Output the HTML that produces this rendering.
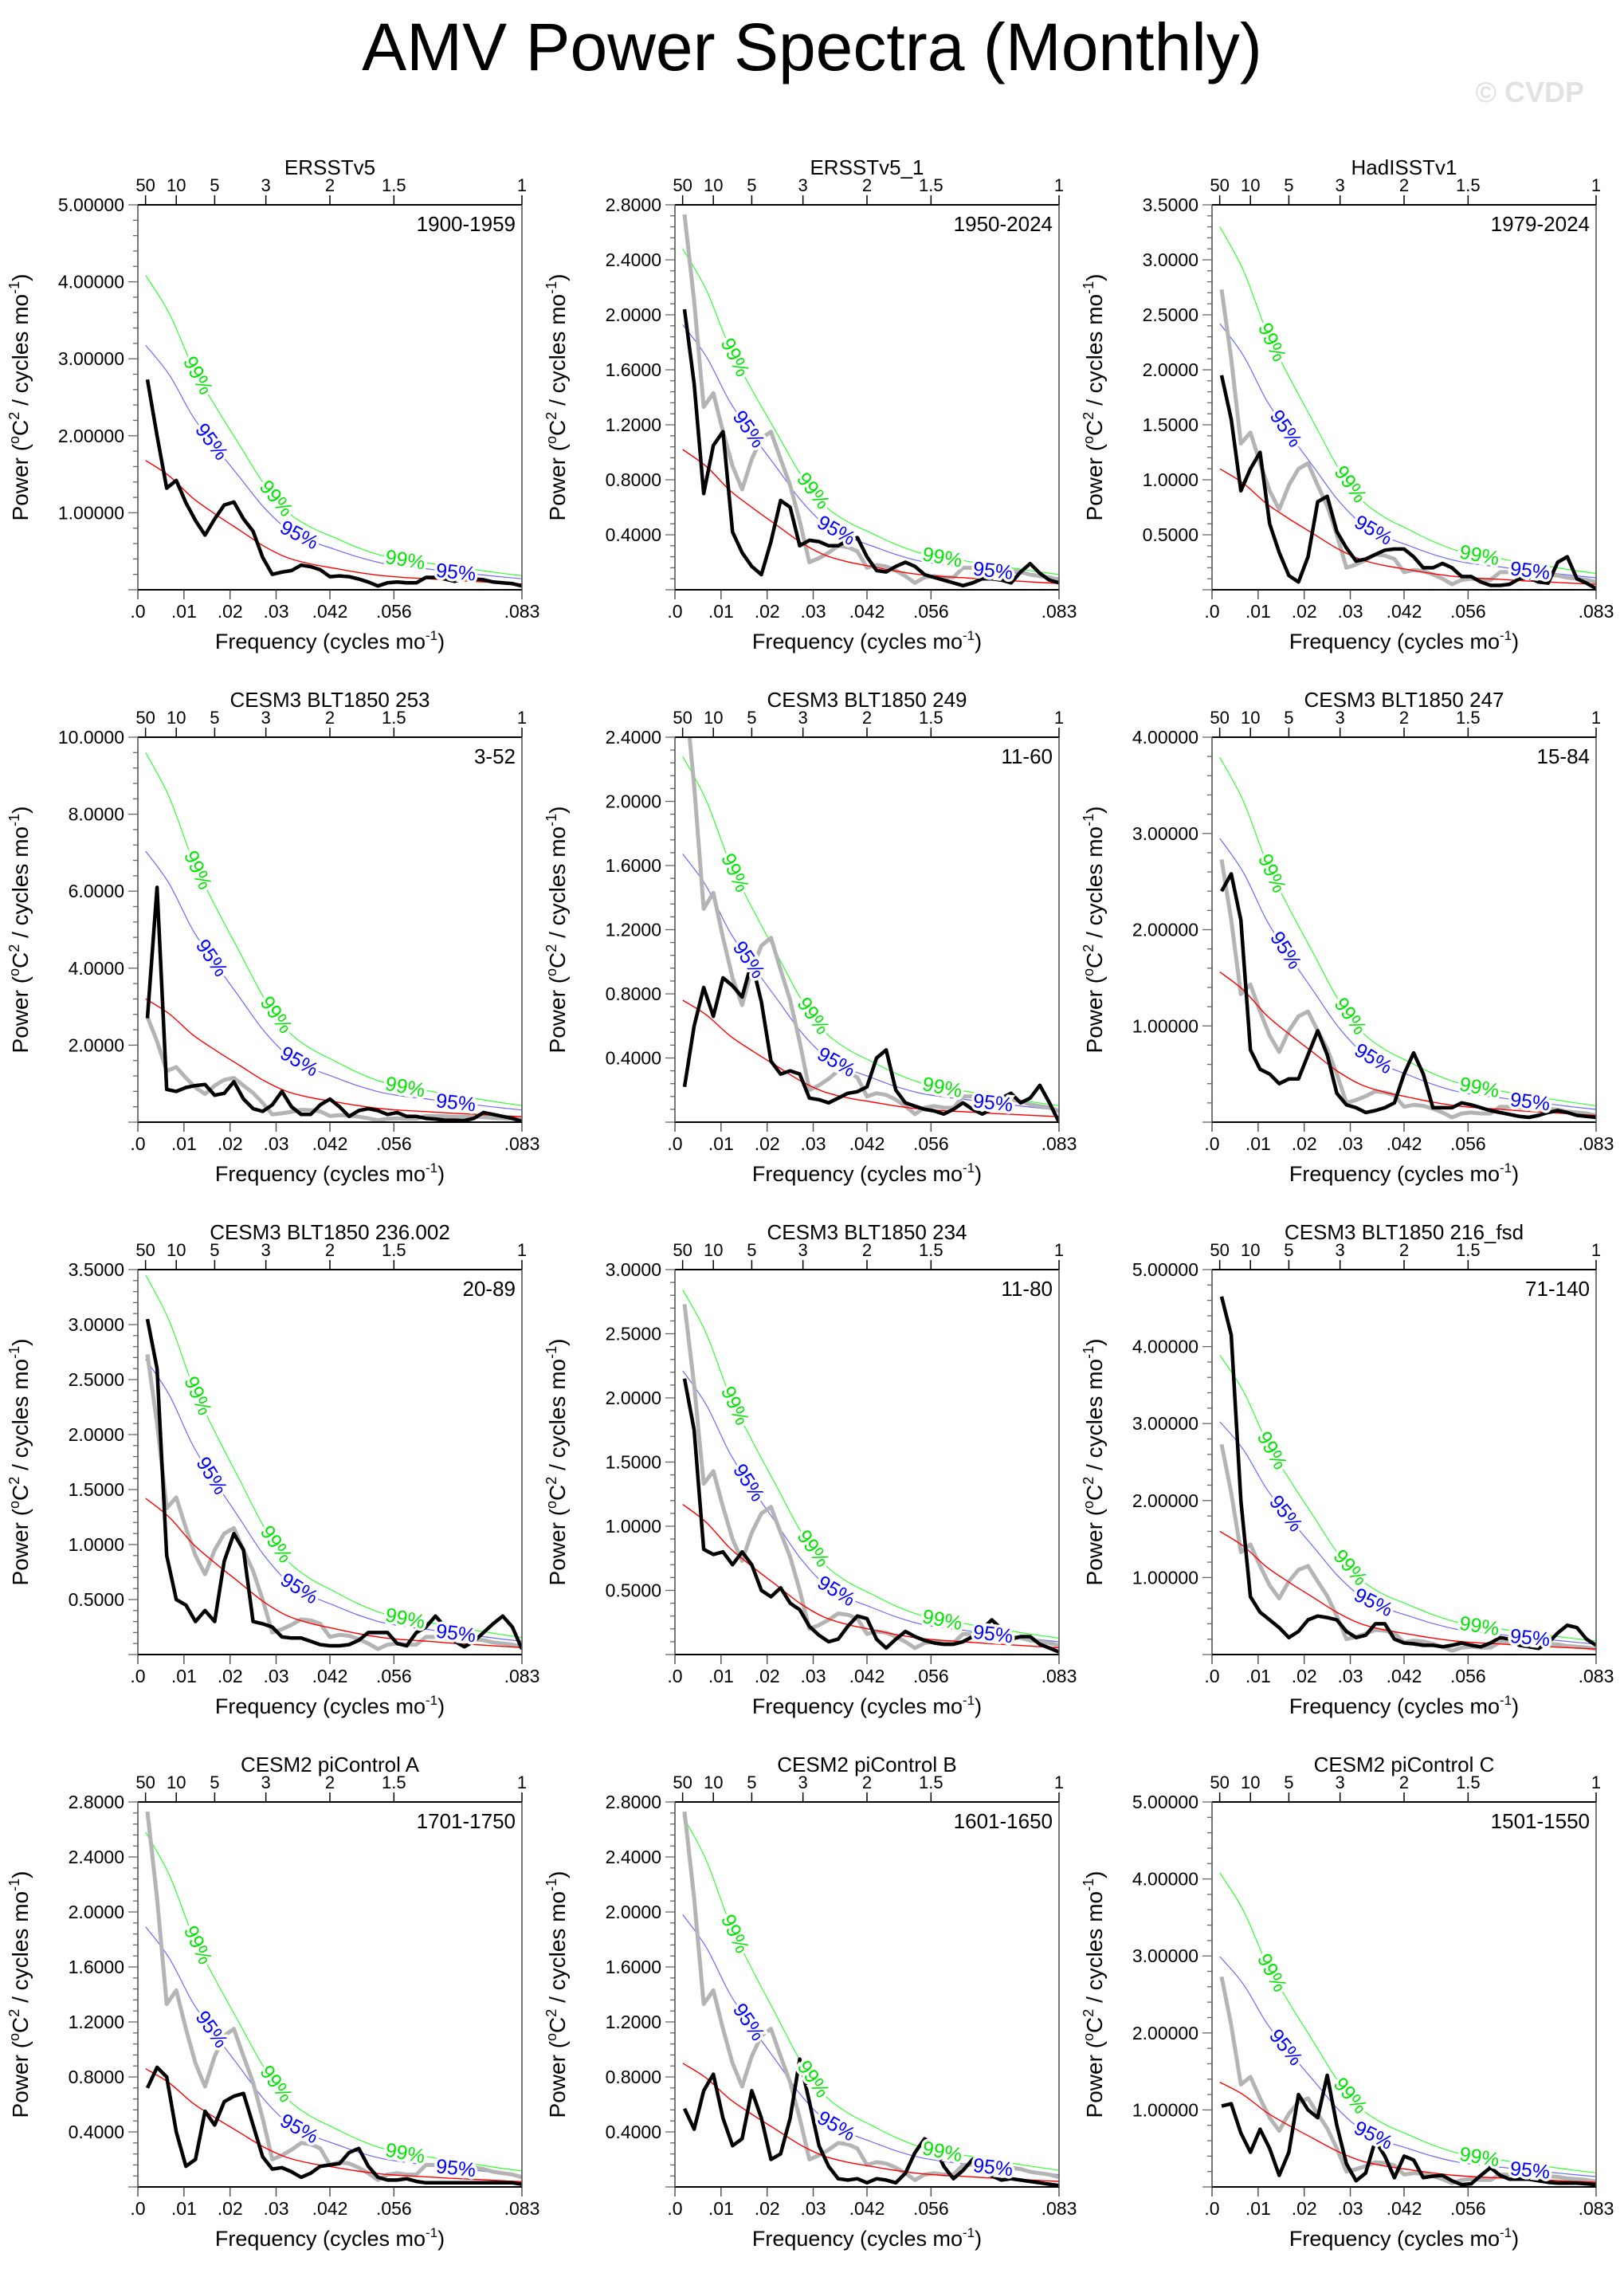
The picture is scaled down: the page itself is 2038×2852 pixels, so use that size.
<!DOCTYPE html>
<html><head><meta charset="utf-8"><title>AMV Power Spectra (Monthly)</title>
<style>
html,body{margin:0;padding:0;background:#fff;}
svg{display:block;font-family:"Liberation Sans",Arial,sans-serif;}
</style></head>
<body>
<svg id="chart" xmlns="http://www.w3.org/2000/svg" width="2038" height="2852" viewBox="0 0 2038 2852">
<rect x="0" y="0" width="2038" height="2852" fill="#fff"/>
<text x="1019" y="88" font-size="84" text-anchor="middle" fill="#000">AMV Power Spectra (Monthly)</text>
<text x="1988" y="128" font-size="36" font-weight="bold" text-anchor="end" fill="#e2e2e2">© CVDP</text>
</svg>
<script>
// ---- data ----
const freqs=[0.00208,0.00417,0.00625,0.00833,0.01042,0.0125,0.01458,0.01667,0.01875,0.02083,0.02292,0.025,0.02708,0.02917,0.03125,0.03333,0.03542,0.0375,0.03958,0.04167,0.04375,0.04583,0.04792,0.05,0.05208,0.05417,0.05625,0.05833,0.06042,0.0625,0.06458,0.06667,0.06875,0.07083,0.07292,0.075,0.07708,0.07917,0.08125,0.08333];
const grayObs=[2.73,2.1,1.33,1.43,1.15,0.9,0.73,0.95,1.1,1.15,0.95,0.76,0.5,0.2,0.23,0.27,0.32,0.31,0.28,0.16,0.18,0.17,0.14,0.1,0.05,0.09,0.1,0.09,0.09,0.16,0.16,0.15,0.14,0.14,0.14,0.13,0.11,0.1,0.09,0.07];
const black1=[2.73,2.0,1.32,1.42,1.13,0.9,0.71,0.92,1.1,1.14,0.92,0.76,0.42,0.2,0.23,0.25,0.32,0.3,0.26,0.17,0.18,0.17,0.14,0.1,0.05,0.09,0.1,0.09,0.09,0.16,0.16,0.14,0.11,0.15,0.14,0.13,0.1,0.09,0.08,0.05];
const black2=[2.04,1.5,0.7,1.05,1.15,0.42,0.27,0.17,0.11,0.35,0.65,0.6,0.32,0.36,0.35,0.32,0.32,0.36,0.38,0.24,0.14,0.13,0.17,0.2,0.17,0.11,0.09,0.07,0.05,0.03,0.05,0.08,0.08,0.07,0.05,0.13,0.19,0.12,0.07,0.05];
const black3=[1.95,1.55,0.9,1.1,1.25,0.6,0.34,0.13,0.07,0.3,0.8,0.85,0.53,0.38,0.26,0.28,0.32,0.36,0.37,0.37,0.3,0.2,0.2,0.24,0.2,0.12,0.12,0.07,0.04,0.04,0.05,0.1,0.11,0.07,0.06,0.25,0.3,0.1,0.06,0.01];
const black4=[2.7,6.1,0.85,0.8,0.9,0.95,0.98,0.7,0.75,1.05,0.6,0.35,0.28,0.45,0.8,0.4,0.2,0.2,0.45,0.6,0.4,0.15,0.3,0.35,0.3,0.2,0.25,0.15,0.15,0.1,0.08,0.05,0.05,0.04,0.1,0.25,0.2,0.15,0.1,0.02];
const black5=[0.22,0.6,0.84,0.66,0.9,0.85,0.78,1.0,0.75,0.38,0.3,0.32,0.3,0.15,0.14,0.12,0.15,0.18,0.19,0.22,0.4,0.45,0.2,0.12,0.1,0.08,0.07,0.05,0.08,0.12,0.08,0.05,0.08,0.15,0.18,0.12,0.15,0.23,0.12,0.0];
const black6=[2.4,2.58,2.1,0.75,0.55,0.5,0.4,0.45,0.45,0.7,0.95,0.7,0.3,0.18,0.15,0.1,0.12,0.15,0.2,0.5,0.72,0.5,0.15,0.15,0.15,0.2,0.18,0.15,0.12,0.1,0.08,0.06,0.05,0.07,0.1,0.12,0.1,0.07,0.06,0.05];
const black7=[3.05,2.6,0.9,0.5,0.45,0.3,0.4,0.3,0.85,1.1,0.95,0.3,0.28,0.25,0.16,0.15,0.15,0.12,0.09,0.08,0.08,0.09,0.13,0.2,0.2,0.2,0.1,0.08,0.2,0.25,0.35,0.25,0.12,0.07,0.12,0.2,0.28,0.35,0.25,0.05];
const black8=[2.15,1.75,0.82,0.78,0.8,0.7,0.8,0.7,0.5,0.45,0.52,0.4,0.35,0.22,0.15,0.1,0.12,0.22,0.3,0.28,0.12,0.05,0.12,0.18,0.14,0.11,0.09,0.08,0.08,0.1,0.14,0.2,0.27,0.2,0.12,0.14,0.14,0.08,0.05,0.02];
const black9=[4.65,4.15,2.0,0.75,0.55,0.45,0.35,0.22,0.3,0.45,0.5,0.48,0.45,0.3,0.22,0.25,0.4,0.4,0.2,0.15,0.14,0.12,0.12,0.1,0.12,0.15,0.12,0.1,0.15,0.22,0.2,0.12,0.1,0.08,0.15,0.28,0.38,0.35,0.2,0.12];
const black10=[0.72,0.87,0.8,0.4,0.15,0.2,0.55,0.45,0.62,0.66,0.68,0.45,0.22,0.13,0.14,0.11,0.07,0.1,0.15,0.16,0.17,0.25,0.28,0.15,0.07,0.05,0.05,0.06,0.04,0.03,0.03,0.03,0.03,0.03,0.03,0.03,0.03,0.03,0.03,0.02];
const black11=[0.57,0.42,0.7,0.82,0.5,0.3,0.35,0.7,0.5,0.2,0.24,0.5,0.93,0.62,0.3,0.15,0.06,0.05,0.06,0.03,0.06,0.05,0.03,0.1,0.25,0.35,0.3,0.15,0.06,0.12,0.2,0.12,0.08,0.05,0.06,0.05,0.04,0.03,0.02,0.01];
const black12=[1.05,1.08,0.7,0.45,0.75,0.5,0.15,0.45,1.2,1.0,0.9,1.45,0.8,0.3,0.08,0.18,0.6,0.4,0.12,0.4,0.35,0.12,0.14,0.15,0.08,0.03,0.04,0.15,0.25,0.15,0.1,0.1,0.1,0.08,0.06,0.05,0.05,0.05,0.04,0.03];
const blackSeries=[black1,black2,black3,black4,black5,black6,black7,black8,black9,black10,black11,black12];
const panelTitles=["ERSSTv5","ERSSTv5_1","HadISSTv1","CESM3 BLT1850 253","CESM3 BLT1850 249","CESM3 BLT1850 247","CESM3 BLT1850 236.002","CESM3 BLT1850 234","CESM3 BLT1850 216_fsd","CESM2 piControl A","CESM2 piControl B","CESM2 piControl C"];
const periodLabels=["1900-1959","1950-2024","1979-2024","3-52","11-60","15-84","20-89","11-80","71-140","1701-1750","1601-1650","1501-1550"];
const yMax=[5,2.8,3.5,10,2.4,4,3.5,3,5,2.8,2.8,5];
const yStep=[1,0.4,0.5,2,0.4,1,0.5,0.5,1,0.4,0.4,1];
const yDecimals=[5,4,4,4,4,5,4,4,5,4,4,5];
const showGray=[false,true,true,true,true,true,true,true,true,true,true,true];
const redStart=[1.68,1.02,1.1,3.2,0.76,1.56,1.42,1.17,1.6,0.86,0.9,1.36];
const conf95=[1.89,1.89,2.2,2.2,2.2,1.89,1.89,1.89,1.89,2.2,2.2,2.2];
const conf99=[2.43,2.43,3.0,3.0,3.0,2.43,2.43,2.43,2.43,3.0,3.0,3.0];
const redFreqs=[0.0017,0.0068,0.0119,0.017,0.0221,0.0272,0.0323,0.0374,0.0425,0.0476,0.0527,0.0578,0.0629,0.068,0.0731,0.0782,0.0833];
const redShape=[1.0,0.88,0.71,0.58,0.46,0.34,0.25,0.2,0.167,0.135,0.11,0.095,0.085,0.073,0.064,0.054,0.045];
const label99Freqs=[0.013,0.03,0.058];
const label95Freqs=[0.016,0.035,0.069];
const xTickVals=[0,0.01,0.02,0.03,0.041667,0.055556,0.083333];
const xTickLabels=[".0",".01",".02",".03",".042",".056",".083"];
const topPeriods=[50,10,5,3,2,1.5,1];
const topLabels=["50","10","5","3","2","1.5","1"];

// ---- layout ----
const NS="http://www.w3.org/2000/svg";
const svg=document.getElementById('chart');
const colX=[173,847,1521], rowY=[257,925,1593,2261], PW=482, PH=483, XMAX=1/12;
function el(tag,attrs,parent){const e=document.createElementNS(NS,tag);for(const k in attrs)e.setAttribute(k,attrs[k]);(parent||svg).appendChild(e);return e;}
function smoothPath(pts){
  let d="M"+pts[0][0].toFixed(1)+","+pts[0][1].toFixed(1);
  for(let i=0;i<pts.length-1;i++){
    const p0=pts[i-1]||pts[i],p1=pts[i],p2=pts[i+1],p3=pts[i+2]||p2;
    const c1=[p1[0]+(p2[0]-p0[0])/6,p1[1]+(p2[1]-p0[1])/6];
    const c2=[p2[0]-(p3[0]-p1[0])/6,p2[1]-(p3[1]-p1[1])/6];
    d+=" C"+c1[0].toFixed(1)+","+c1[1].toFixed(1)+" "+c2[0].toFixed(1)+","+c2[1].toFixed(1)+" "+p2[0].toFixed(1)+","+p2[1].toFixed(1);
  }
  return d;
}
function interp(xs,ys,x){
  if(x<=xs[0])return ys[0];
  for(let i=0;i<xs.length-1;i++){if(x<=xs[i+1]){const t=(x-xs[i])/(xs[i+1]-xs[i]);return ys[i]+t*(ys[i+1]-ys[i]);}}
  return ys[ys.length-1];
}

for(let p=0;p<12;p++){
  const L=colX[p%3], T=rowY[Math.floor(p/3)], B=T+PH, R=L+PW;
  const xs=f=>L+f/XMAX*PW;
  const ys=v=>B-v/yMax[p]*PH;
  const g=el('g',{});
  
  
  const cp=el('clipPath',{id:'clip'+p},g); el('rect',{x:L,y:T,width:PW,height:PH},cp);
  const tt=el('text',{x:L+PW/2,y:T-38,'font-size':26,'text-anchor':'middle'},g); tt.textContent=panelTitles[p];
   
  const pl=el('text',{x:R-8,y:T+33,'font-size':26,'text-anchor':'end'},g); pl.textContent=periodLabels[p];
   
  for(let i=0;i<topPeriods.length;i++){
    const x=xs(1/(12*topPeriods[i]));
    el('line',{x1:x,y1:T,x2:x,y2:T-12,stroke:'#000','stroke-width':1.5},g);
    const t=el('text',{x:x,y:T-17,'font-size':22,'text-anchor':'middle'},g); t.textContent=topLabels[i];
     
  }
  for(let i=0;i<xTickVals.length;i++){
    const x=xs(xTickVals[i]);
    el('line',{x1:x,y1:B,x2:x,y2:B+12,stroke:'#555','stroke-width':1.5},g);
    const t=el('text',{x:x,y:B+35,'font-size':23,'text-anchor':'middle'},g); t.textContent=xTickLabels[i];
     
  }
  const nMaj=Math.round(yMax[p]/yStep[p]);
  for(let k=0;k<=nMaj*5;k++){
    const v=k*yStep[p]/5, y=ys(v);
    const major=(k%5===0);
    el('line',{x1:L,y1:y,x2:L-(major?12:6),y2:y,stroke:'#666','stroke-width':1.3},g);
    if(major&&k>0){
      const t=el('text',{x:L-17,y:y+8,'font-size':23,'text-anchor':'end'},g); t.textContent=v.toFixed(yDecimals[p]);
       
    }
  }
  const xt=el('text',{x:L+PW/2,y:B+74,'font-size':27,'text-anchor':'middle'},g);
  xt.innerHTML='Frequency (cycles mo<tspan dy="-11" font-size="17">-1</tspan><tspan dy="11">)</tspan>';
   
  const yt=el('text',{x:0,y:0,'font-size':28,'text-anchor':'middle',transform:'translate('+(L-138)+','+(T+PH/2)+') rotate(-90)'},g);
  yt.innerHTML='Power (<tspan dy="-11" font-size="18">o</tspan><tspan dy="11">C</tspan><tspan dy="-11" font-size="18">2</tspan><tspan dy="11"> / cycles mo</tspan><tspan dy="-11" font-size="18">-1</tspan><tspan dy="11">)</tspan>';
   

  const plot=el('g',{'clip-path':'url(#clip'+p+')'},g);
  const mk=(mult)=>redFreqs.map((f,i)=>[xs(f),ys(redStart[p]*redShape[i]*mult)]);
  const g99=el('path',{d:smoothPath(mk(conf99[p])),fill:'none',stroke:'#33ff33','stroke-width':1.2},plot);
   
  const b95=el('path',{d:smoothPath(mk(conf95[p])),fill:'none',stroke:'#6a6aff','stroke-width':1.2},plot);
   
  if(showGray[p]){
    const gp=el('polyline',{points:freqs.map((f,i)=>xs(f).toFixed(1)+','+ys(grayObs[i]).toFixed(1)).join(' '),fill:'none',stroke:'#b4b4b4','stroke-width':5,'stroke-linejoin':'round'},plot);
     
  }
  const rp=el('path',{d:smoothPath(mk(1)),fill:'none',stroke:'#ff0000','stroke-width':1.4},plot);
   
  const bs=blackSeries[p];
  const bp=el('polyline',{points:freqs.map((f,i)=>xs(f).toFixed(1)+','+ys(bs[i]).toFixed(1)).join(' '),fill:'none',stroke:'#000','stroke-width':4.5,'stroke-linejoin':'round'},plot);
   
  const addLabel=(f,mult,txt,color,nm)=>{
    const vy=f2=>ys(redStart[p]*interp(redFreqs,redShape,f2)*mult);
    const x=xs(f), y=vy(f);
    const ang=Math.atan2(vy(f+0.002)-vy(f-0.002),xs(f+0.002)-xs(f-0.002))*180/Math.PI;
    const t=el('text',{x:0,y:0,'font-size':25,'text-anchor':'middle',fill:color,stroke:'#fff','stroke-width':7,'paint-order':'stroke',transform:'translate('+x.toFixed(1)+','+y.toFixed(1)+') rotate('+ang.toFixed(1)+') translate(0,8)'},plot);
    t.textContent=txt;
     
  };
  label99Freqs.forEach(f=>addLabel(f,conf99[p],'99%','#00e600','label-99-percent'));
  label95Freqs.forEach(f=>addLabel(f,conf95[p],'95%','#0000ff','label-95-percent'));
  el('line',{x1:L,y1:T,x2:R,y2:T,stroke:'#000','stroke-width':2},g);
  el('line',{x1:L,y1:B,x2:R,y2:B,stroke:'#000','stroke-width':2},g);
  el('line',{x1:L,y1:T,x2:L,y2:B,stroke:'#555','stroke-width':1.6},g);
  el('line',{x1:R,y1:T,x2:R,y2:B,stroke:'#555','stroke-width':1.6},g);
}
</script>
</body></html>
